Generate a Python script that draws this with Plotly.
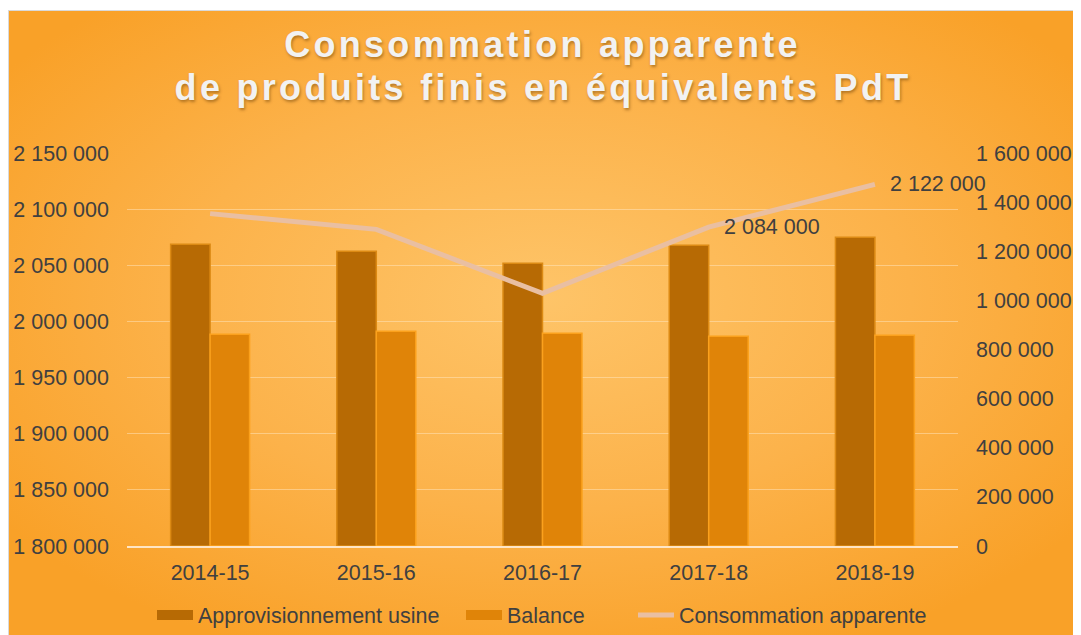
import base64
import plotly.graph_objects as go

# ---------------- data ----------------
categories = ["2014-15", "2015-16", "2016-17", "2017-18", "2018-19"]
approvisionnement = [1228600, 1200000, 1151000, 1224500, 1257000]   # right axis
balance = [862500, 874600, 866500, 854300, 858400]                  # right axis
consommation = [2096000, 2082000, 2025000, 2084000, 2122000]        # left axis
labelled_categories = ["2017-18", "2018-19"]

left_ticks = [1800000, 1850000, 1900000, 1950000, 2000000, 2050000, 2100000, 2150000]
right_ticks = [0, 200000, 400000, 600000, 800000, 1000000, 1200000, 1400000, 1600000]

title_line1 = "Consommation apparente"
title_line2 = "de produits finis en équivalents PdT"
series_names = ["Approvisionnement usine", "Balance", "Consommation apparente"]

# ---------------- styling ----------------
W, H = 1073, 627
L, R, T, B = 119, 123, 145, 89
pw, ph = W - L - R, H - T - B

TEXT = "#404040"
FONT = "Liberation Sans, Arial, sans-serif"
FS = 21.5
C_APPRO = "#B76A04"
C_BAL = "#E08408"
C_LINE = "#E9BFA2"
TITLE_FONT = dict(family=FONT, size=36, weight="bold", color="#F2F2F2",
                  shadow="1px 2px 3px rgba(90,50,0,0.45)")


def px_x(p):
    return (p - L) / pw


def px_y(p):
    return (H - B - p) / ph


svg = (
    "<svg xmlns='http://www.w3.org/2000/svg' width='1073' height='625' viewBox='0 0 1073 625' "
    "preserveAspectRatio='none'><defs><radialGradient id='g' cx='50%' cy='46%' r='62%'>"
    "<stop offset='0' stop-color='#FEC468'/><stop offset='0.55' stop-color='#FCB24A'/>"
    "<stop offset='1' stop-color='#F9A128'/></radialGradient></defs>"
    "<rect x='0.5' y='0.5' width='1073' height='625' fill='url(#g)' stroke='#D9D9D9' stroke-width='1'/></svg>"
)
bg_src = "data:image/svg+xml;base64," + base64.b64encode(svg.encode()).decode()


def fmt(v):
    return f"{v:,}".replace(",", " ")


fig = go.Figure()
fig.add_bar(
    x=categories, y=approvisionnement, name=series_names[0], yaxis="y",
    legendgroup="a", showlegend=False,
    marker=dict(color=C_APPRO, line=dict(color="#DC8A14", width=1.5)),
)
fig.add_bar(
    x=categories, y=balance, name=series_names[1], yaxis="y",
    legendgroup="b", showlegend=False,
    marker=dict(color=C_BAL, line=dict(color="#FBA11D", width=1.5)),
)
fig.add_scatter(
    x=categories, y=consommation, name=series_names[2], yaxis="y2",
    mode="lines", line=dict(color=C_LINE, width=5), legend="legend3",
)
# legend entries for the bar series (rectangular keys like the original)
fig.add_scatter(x=[None], y=[None], name=series_names[0], mode="lines", legendgroup="a",
                line=dict(color=C_APPRO, width=12), legend="legend", hoverinfo="skip")
fig.add_scatter(x=[None], y=[None], name=series_names[1], mode="lines", legendgroup="b",
                line=dict(color=C_BAL, width=12), legend="legend2", hoverinfo="skip")

annotations = [dict(
    x=px_x(534.5), xref="paper", y=px_y(79.5), yref="paper", text=title_line2,
    showarrow=False, xanchor="center", yanchor="middle", font=TITLE_FONT,
)]
for c, v in zip(categories, consommation):
    if c in labelled_categories:
        annotations.append(dict(
            x=c, y=v, xref="x", yref="y2", text=fmt(v), showarrow=False,
            xanchor="left", yanchor="middle", xshift=13,
            font=dict(family=FONT, size=FS, color=TEXT),
        ))

leg_common = dict(orientation="h", yanchor="middle", y=px_y(607), xanchor="left",
                  bgcolor="rgba(0,0,0,0)", font=dict(family=FONT, size=FS, color=TEXT),
                  itemwidth=36, borderwidth=0)

fig.update_layout(
    width=W, height=H, autosize=False,
    margin=dict(l=L, r=R, t=T, b=B, pad=0, autoexpand=False),
    paper_bgcolor="white", plot_bgcolor="rgba(0,0,0,0)",
    separators=", ",
    barmode="group", bargap=0.525, bargroupgap=0,
    font=dict(family=FONT, size=FS, color=TEXT),
    title=dict(
        text=title_line1,
        x=534.5 / W, xref="container", xanchor="center",
        y=1 - 24.1 / H, yref="container", yanchor="top",
        font=TITLE_FONT,
    ),
    xaxis=dict(
        type="category", categoryarray=categories, categoryorder="array",
        range=[-0.5, len(categories) - 0.5],
        showline=True, linecolor="rgba(255,240,222,0.85)", linewidth=1.5,
        ticks="", showgrid=False, ticklabelstandoff=6, automargin=False,
        tickfont=dict(family=FONT, size=FS, color=TEXT),
    ),
    yaxis=dict(
        side="right", range=[right_ticks[0], right_ticks[-1]], tickvals=right_ticks,
        tickformat=",d", showgrid=False, zeroline=False, showline=False, ticks="",
        ticklabelstandoff=17, automargin=False, tickfont=dict(family=FONT, size=FS, color=TEXT),
    ),
    yaxis2=dict(
        side="left", overlaying="y", range=[left_ticks[0], left_ticks[-1]], tickvals=left_ticks,
        tickformat=",d", showgrid=True, gridcolor="rgba(255,236,205,0.45)", gridwidth=1,
        zeroline=False, showline=False, ticks="", automargin=False,
        ticklabelstandoff=17, tickfont=dict(family=FONT, size=FS, color=TEXT),
    ),
    legend=dict(x=px_x(144), **leg_common),
    legend2=dict(x=px_x(453), **leg_common),
    legend3=dict(x=px_x(625), **leg_common),
    annotations=annotations,
    images=[dict(
        source=bg_src, xref="paper", yref="paper",
        x=px_x(0), y=px_y(2), sizex=W / pw, sizey=(H - 2) / ph,
        xanchor="left", yanchor="top", sizing="stretch", layer="below",
    )],
    showlegend=True,
)

post = """
var gd = document.getElementById('{plot_id}');
function ls(){
  document.querySelectorAll('.gtitle').forEach(function(e){ e.style.letterSpacing='3.3px'; });
  document.querySelectorAll('.annotation[data-index="0"] .annotation-text').forEach(function(e){ e.style.letterSpacing='3.3px'; });
}
ls();
if (gd && gd.on) { gd.on('plotly_afterplot', ls); }
"""

fig.write_html("out.html", config={"displayModeBar": False}, post_script=post)
